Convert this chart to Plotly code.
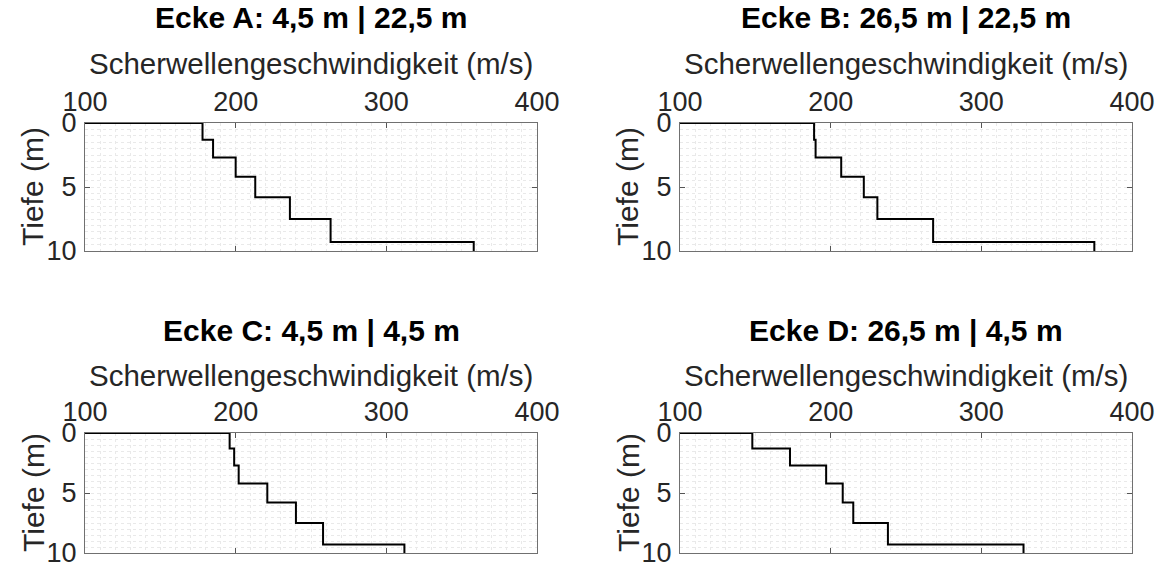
import plotly.graph_objects as go

# Layer boundaries (m) shared by all four corner profiles
depth_bounds = [1.3, 2.7, 4.2, 5.8, 7.5, 9.3]
depth_max = 10

# Shear wave velocity per layer (m/s), top to bottom
vs_a = [178, 185, 200, 213, 236, 263, 358]
vs_b = [189, 190, 207, 222, 231, 268, 375]
vs_c = [196, 199, 202, 221, 240, 258, 312]
vs_d = [148, 173, 197, 208, 215, 238, 328]

titles = ["Ecke A: 4,5 m | 22,5 m", "Ecke B: 26,5 m | 22,5 m",
          "Ecke C: 4,5 m | 4,5 m", "Ecke D: 26,5 m | 4,5 m"]
x_label = "Scherwellengeschwindigkeit (m/s)"
y_label = "Tiefe (m)"
x_ticks = [100, 200, 300, 400]
y_ticks = [0, 5, 10]

W, H = 1156, 569
FONT = "Liberation Sans, Arial, sans-serif"
INK = "#262626"

# panel boxes in pixels: (left, top, right, bottom)
boxes = [(85, 123, 537, 251), (680, 123, 1132, 251),
         (85, 433, 537, 553), (680, 433, 1132, 553)]
profiles = [vs_a, vs_b, vs_c, vs_d]

fig = go.Figure()
annotations = []
layout = {}

for i, (prof, box, title) in enumerate(zip(profiles, boxes, titles)):
    l, t, r, b = box
    n = "" if i == 0 else str(i + 1)
    xa, ya = "xaxis" + n, "yaxis" + n
    xr, yr = "x" + n, "y" + n

    xs = [x_ticks[0]] + prof
    ys = [0] + depth_bounds + [depth_max]
    fig.add_trace(go.Scatter(x=xs, y=ys, mode="lines", line_shape="hv",
                             line=dict(color="black", width=2),
                             xaxis=xr, yaxis=yr, showlegend=False,
                             hoverinfo="skip"))

    grid = dict(showgrid=True, gridcolor="#e9e9e9", griddash="dot", gridwidth=1)
    layout[xa] = dict(
        domain=[l / W, r / W], anchor=yr, side="top", automargin=False,
        range=[x_ticks[0], x_ticks[-1]], tickvals=x_ticks,
        ticks="inside", ticklen=5, tickcolor="#555",
        showline=True, linecolor="#707070", linewidth=1, mirror="allticks",
        tickfont=dict(family=FONT, size=27, color=INK),
        ticklabelstandoff=0,
        minor=dict(dtick=10, **grid), zeroline=False, **grid)
    layout[ya] = dict(
        domain=[1 - b / H, 1 - t / H], anchor=xr, automargin=False,
        range=[depth_max, 0], tickvals=y_ticks,
        ticks="inside", ticklen=5, tickcolor="#555",
        showline=True, linecolor="#707070", linewidth=1, mirror="allticks",
        tickfont=dict(family=FONT, size=27, color=INK),
        ticklabelstandoff=2,
        minor=dict(dtick=0.5, **grid), zeroline=False, **grid)

    cx = (l + r) / 2 / W
    top_row = i < 2
    ty = 18 if top_row else 330
    sy = 64 if top_row else 375
    annotations.append(dict(text="<b>" + title + "</b>", x=cx, y=1 - ty / H,
                            xref="paper", yref="paper", showarrow=False,
                            xanchor="center", yanchor="middle",
                            font=dict(family=FONT, size=30, color="black")))
    annotations.append(dict(text=x_label, x=cx, y=1 - sy / H,
                            xref="paper", yref="paper", showarrow=False,
                            xanchor="center", yanchor="middle",
                            font=dict(family=FONT, size=29.5, color=INK)))
    annotations.append(dict(text=y_label, x=(l - 52) / W, y=1 - (t + b) / 2 / H,
                            xref="paper", yref="paper", showarrow=False,
                            textangle=-90, xanchor="center", yanchor="middle",
                            font=dict(family=FONT, size=30, color=INK)))

fig.update_layout(width=W, height=H, margin=dict(l=0, r=0, t=0, b=0),
                  paper_bgcolor="white", plot_bgcolor="white",
                  annotations=annotations, **layout)

fig.write_html("out.html")
